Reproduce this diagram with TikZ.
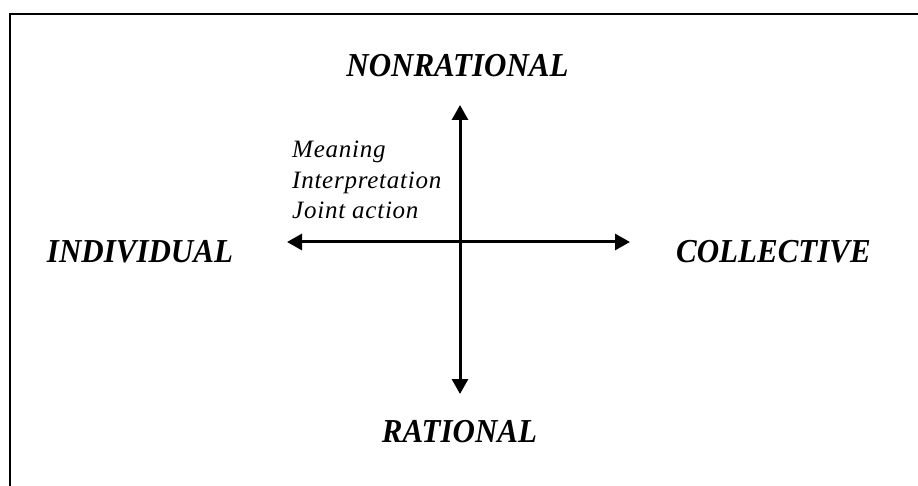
\documentclass[tikz,border=0pt]{standalone}
\usepackage{fontspec}
\setmainfont{Liberation Serif}
\newfontfamily\notefont[LetterSpace=3]{Liberation Serif}
\usetikzlibrary{arrows.meta}
\newcommand{\tallcaps}[1]{\scalebox{1}[1.08]{#1}}
\tikzset{
  axis/.style={line width=3pt, {Triangle[length=15pt,width=16pt]}-{Triangle[length=15pt,width=16pt]}},
  frameline/.style={line width=2.6pt, line cap=butt},
  polelabel/.style={inner sep=0pt, anchor=base, font=\fontsize{31}{37}\selectfont\bfseries\itshape},
  notelabel/.style={inner sep=0pt, anchor=base west, font=\notefont\fontsize{25}{30}\selectfont\itshape}
}
\begin{document}
\begin{tikzpicture}[x=1pt,y=-1pt]
\useasboundingbox (0,0) rectangle (918,486);
% frame (top and left edges)
\draw[frameline] (10,486) -- (10,14) -- (918,14);
% axes endpoints
\coordinate (L) at (287,242);
\coordinate (R) at (630,242);
\coordinate (T) at (460,105);
\coordinate (B) at (460,394);
\draw[axis] (T) -- (B);
\draw[axis] (L) -- (R);
% labels
\node[polelabel] (nonrat) at (457.5,77) {\tallcaps{NONRATIONAL}};
\node[polelabel] (indiv) at (140,263) {\tallcaps{INDIVIDUAL}};
\node[polelabel] (coll) at (773.5,263) {\tallcaps{COLLECTIVE}};
\node[polelabel] (rat) at (459.5,442) {\tallcaps{RATIONAL}};
\node[notelabel] (meaning) at (292,158) {Meaning};
\node[notelabel] (interp) at (292,188.5) {Interpretation};
\node[notelabel] (joint) at (292,219) {Joint action};
\end{tikzpicture}
\end{document}
